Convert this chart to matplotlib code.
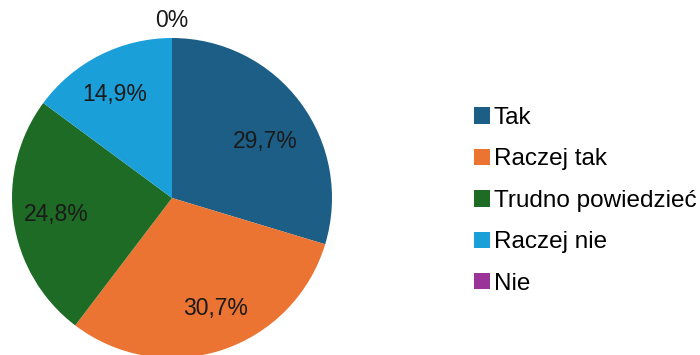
import numpy as np
import matplotlib.pyplot as plt

plt.rcParams["font.family"] = ["Liberation Sans", "DejaVu Sans"]

# data
categories = ["Tak", "Raczej tak", "Trudno powiedzieć", "Raczej nie", "Nie"]
values = [29.7, 30.7, 24.8, 14.9, 0.0]
value_labels = ["29,7%", "30,7%", "24,8%", "14,9%", "0%"]
colors = ["#1c5e85", "#ec7432", "#1e6b25", "#1b9fd9", "#9b3499"]

# label placement (radius as fraction of pie radius, angle nudge in degrees)
label_radius = [0.68, 0.74, 0.73, 0.74, 1.11]
label_nudge = [-5.5, 3.5, 0.0, 2.0, 0.0]

fig = plt.figure(figsize=(7, 3.55), dpi=100)
ax = fig.add_axes([12 / 700, -3 / 355, 320 / 700, 320 / 355])

wedges, _ = ax.pie(values, colors=colors, startangle=90, counterclock=False,
                   radius=1.0, center=(0, 0))
ax.set_xlim(-1, 1)
ax.set_ylim(-1, 1)
ax.set_aspect("equal")
ax.axis("off")

for w, txt, r, d in zip(wedges, value_labels, label_radius, label_nudge):
    ang = np.deg2rad((w.theta1 + w.theta2) / 2 + d)
    ax.text(r * np.cos(ang), r * np.sin(ang), txt, ha="center", va="center",
            fontsize=16.5, color="#1a1a1a", clip_on=False)

fig.legend(wedges, categories, loc="upper left",
           bbox_to_anchor=(474 / 700, 1 - 107 / 355), frameon=False,
           fontsize=17.5, handlelength=0.66, handleheight=0.66,
           handletextpad=0.15, labelspacing=0.8, borderaxespad=0,
           borderpad=0)

fig.savefig("out.png", dpi=100)
